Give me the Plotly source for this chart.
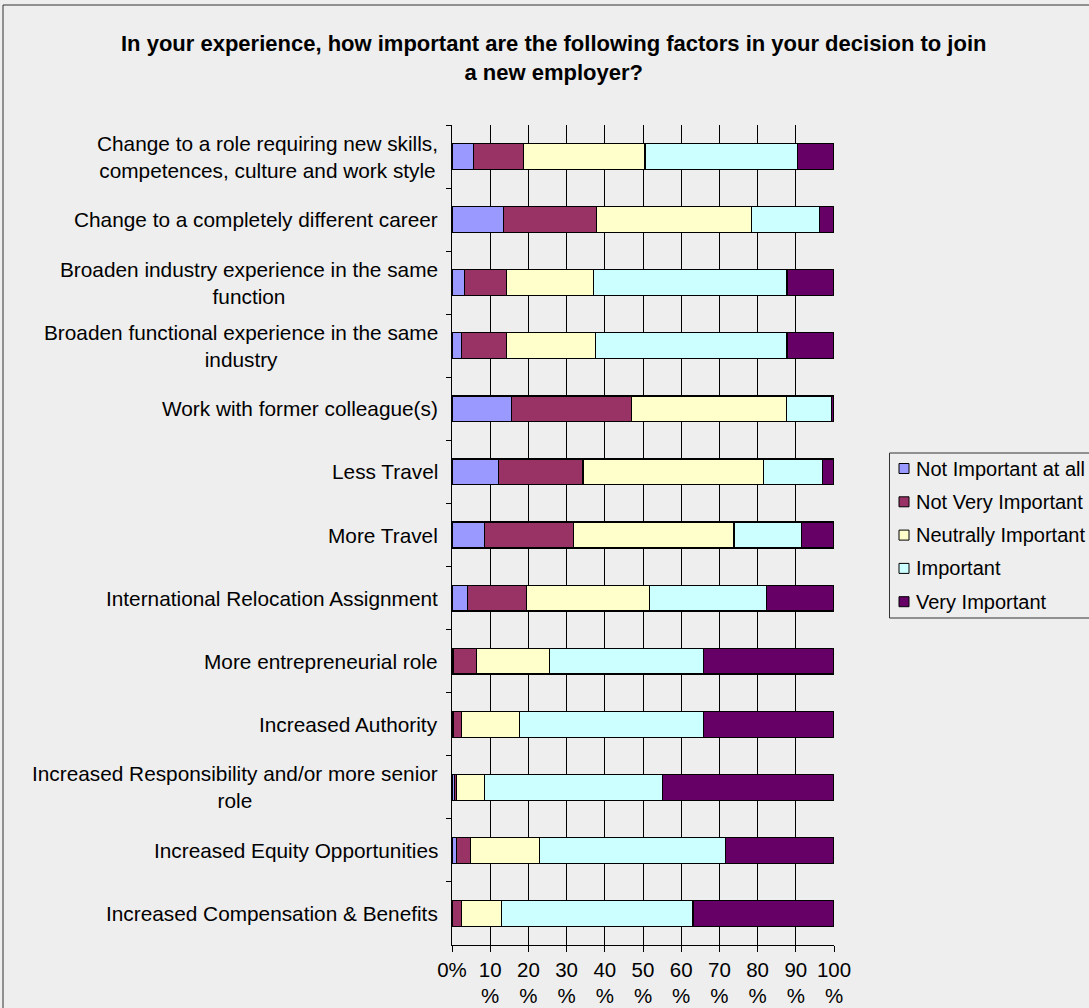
import plotly.graph_objects as go

# Survey factors (top to bottom as displayed)
categories = [
    "Change to a role requiring new skills,<br>competences, culture and work style",
    "Change to a completely different career",
    "Broaden industry experience in the same<br>function",
    "Broaden functional experience in the same<br>industry",
    "Work with former colleague(s)",
    "Less Travel",
    "More Travel",
    "International Relocation Assignment",
    "More entrepreneurial role",
    "Increased Authority",
    "Increased Responsibility and/or more senior<br>role",
    "Increased Equity Opportunities",
    "Increased Compensation & Benefits",
]

# Share of respondents per answer (%)
not_important_at_all = [5.7, 13.4, 3.2, 2.4, 15.5, 12.2, 8.6, 4.1, 0.3, 0.4, 0.6, 1.1, 0.0]
not_very_important = [13.1, 24.5, 11.0, 11.8, 31.4, 22.1, 23.2, 15.5, 6.1, 2.0, 0.5, 3.8, 2.4]
neutrally_important = [31.7, 40.4, 22.9, 23.3, 40.7, 47.3, 42.0, 32.2, 19.2, 15.2, 7.5, 17.9, 10.6]
important = [40.0, 17.9, 50.6, 50.2, 11.8, 15.4, 17.6, 30.6, 40.3, 48.3, 46.4, 48.9, 50.1]
very_important = [9.5, 3.8, 12.3, 12.3, 0.6, 3.0, 8.6, 17.6, 34.1, 34.1, 45.0, 28.3, 36.9]

series_names = ["Not Important at all", "Not Very Important", "Neutrally Important",
                "Important", "Very Important"]
series_values = [not_important_at_all, not_very_important, neutrally_important,
                 important, very_important]
series_colors = ["#9999FF", "#993366", "#FFFFCC", "#CCFFFF", "#660066"]

x_tick_vals = list(range(0, 101, 10))
x_tick_text = ["0%"] + [f"{v}<br>%" for v in x_tick_vals[1:]]

title_text = ("In your experience, how important are the following factors in your decision to join"
              "<br>a new employer?")

FONT = "Liberation Sans, Arial, sans-serif"
BG = "#EEEEEE"

# Canvas and plot-area geometry in pixels
W, H = 1089, 1008
L, R, T, B = 452, 834, 125, 945


def px_x(x):
    return (x - L) / (R - L)


def px_y(y):
    return (B - y) / (B - T)


fig = go.Figure()
for name, vals, col in zip(series_names, series_values, series_colors):
    fig.add_trace(go.Bar(
        name=name, y=categories, x=vals, orientation="h",
        marker=dict(color=col, line=dict(color="#000000", width=1.2)),
        showlegend=False,
    ))

shapes = []
annotations = []

# Outer chart frame
shapes.append(dict(type="rect", xref="paper", yref="paper",
                   x0=px_x(3), x1=px_x(W + 20), y0=px_y(H + 20), y1=px_y(5),
                   line=dict(color="#333333", width=1), fillcolor="rgba(0,0,0,0)", layer="below"))

# Category labels: centred lines, right edge next to the axis
for cat in categories:
    annotations.append(dict(text=cat, xref="paper", yref="y", x=px_x(440), y=cat,
                            xanchor="right", yanchor="middle", align="center",
                            showarrow=False,
                            font=dict(family=FONT, size=20.8, color="#000000")))

# Legend box with swatches
shapes.append(dict(type="rect", xref="paper", yref="paper",
                   x0=px_x(889.5), x1=px_x(W + 20), y0=px_y(618), y1=px_y(453),
                   line=dict(color="#333333", width=1), fillcolor=BG))
for i, (name, col) in enumerate(zip(series_names, series_colors)):
    cy = 468.5 + 33.3 * i
    shapes.append(dict(type="rect", xref="paper", yref="paper",
                       x0=px_x(899), x1=px_x(909), y0=px_y(cy + 5), y1=px_y(cy - 5),
                       line=dict(color="#000000", width=1), fillcolor=col))
    annotations.append(dict(text=name, xref="paper", yref="paper",
                            x=px_x(914), y=px_y(cy), xanchor="left", yanchor="middle",
                            showarrow=False, font=dict(family=FONT, size=20, color="#000000")))

# Chart title
annotations.append(dict(text=title_text, xref="paper", yref="paper",
                        x=px_x(553), y=px_y(58), xanchor="center", yanchor="middle",
                        showarrow=False, align="center",
                        font=dict(family=FONT, size=22, color="#000000", weight="bold")))

fig.update_layout(
    width=W, height=H,
    margin=dict(l=L, r=W - R, t=T, b=H - B, autoexpand=False),
    paper_bgcolor=BG, plot_bgcolor=BG,
    barmode="stack", bargap=0.59,
    showlegend=False,
    font=dict(family=FONT, size=20, color="#000000"),
    shapes=shapes, annotations=annotations,
    xaxis=dict(
        range=[0, 100], tickvals=x_tick_vals, ticktext=x_tick_text,
        showgrid=True, gridcolor="#000000", gridwidth=1,
        showline=True, linecolor="#000000", linewidth=1,
        ticks="outside", ticklen=6, tickcolor="#000000",
        zeroline=False, fixedrange=True,
        tickfont=dict(family=FONT, size=20.5, color="#000000"),
    ),
    yaxis=dict(
        categoryorder="array", categoryarray=categories, autorange="reversed",
        showgrid=False, showline=True, linecolor="#000000", linewidth=1,
        ticks="outside", ticklen=5, tickcolor="#000000", tickson="boundaries",
        showticklabels=False,
    ),
)

fig.write_html("out.html")
